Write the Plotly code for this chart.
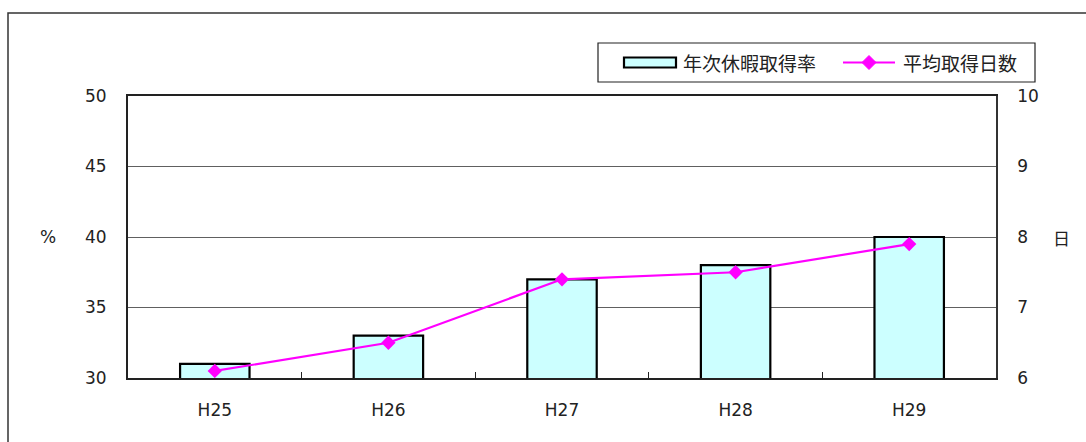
import plotly.graph_objects as go

categories = ["H25", "H26", "H27", "H28", "H29"]
rate_pct = [31, 33, 37, 38, 40]          # 年次休暇取得率 (%)
avg_days = [6.1, 6.5, 7.4, 7.5, 7.9]     # 平均取得日数 (日)
bar_name = "年次休暇取得率"
line_name = "平均取得日数"

W, H = 1086, 442
L, R, T, B = 128, 90, 96, 64
PW, PH = W - L - R, H - T - B

def px(x):
    return (x - L) / PW

def py(y):
    return (H - B - y) / PH

num_font = dict(family="DejaVu Sans, Liberation Sans, sans-serif", size=17, color="#222")
jp_font = dict(family="Noto Sans CJK JP, sans-serif", size=19, color="#222")

fig = go.Figure()
fig.add_trace(go.Bar(
    x=categories, y=rate_pct, name=bar_name, width=0.4,
    marker=dict(color="#CCFFFF", line=dict(color="black", width=2.2)),
    showlegend=False, yaxis="y"))
fig.add_trace(go.Scatter(
    x=categories, y=avg_days, name=line_name, mode="lines+markers",
    line=dict(color="#FF00FF", width=2.2),
    marker=dict(symbol="diamond", size=11, color="#FF00FF"),
    showlegend=False, yaxis="y2"))

shapes = []
# outer chart frame (extends past right/bottom edges)
shapes.append(dict(type="rect", xref="paper", yref="paper",
                   x0=px(8), x1=px(W + 20), y0=py(13), y1=py(H + 20),
                   line=dict(color="#333", width=1.5), layer="below"))
# legend box
shapes.append(dict(type="rect", xref="paper", yref="paper",
                   x0=px(598), x1=px(1035), y0=py(43), y1=py(82),
                   line=dict(color="#222", width=1.2), fillcolor="white"))
# bar swatch
shapes.append(dict(type="rect", xref="paper", yref="paper",
                   x0=px(624), x1=px(676), y0=py(57.5), y1=py(67.5),
                   line=dict(color="black", width=2.2), fillcolor="#CCFFFF"))
# line swatch
shapes.append(dict(type="line", xref="paper", yref="paper",
                   x0=px(843), x1=px(895), y0=py(62.5), y1=py(62.5),
                   line=dict(color="#FF00FF", width=2.2)))
cx, cy, d = 869, 62.5, 7
shapes.append(dict(type="path", xref="paper", yref="paper",
                   path=f"M {px(cx-d)} {py(cy)} L {px(cx)} {py(cy-d)} L {px(cx+d)} {py(cy)} L {px(cx)} {py(cy+d)} Z",
                   line=dict(color="#FF00FF", width=1), fillcolor="#FF00FF"))

annotations = [
    dict(text=bar_name, xref="paper", yref="paper", x=px(681), y=py(62.5),
         xanchor="left", yanchor="middle", showarrow=False, font=jp_font),
    dict(text=line_name, xref="paper", yref="paper", x=px(901), y=py(62.5),
         xanchor="left", yanchor="middle", showarrow=False, font=jp_font),
    dict(text="%", xref="paper", yref="paper", x=px(48), y=0.5,
         xanchor="center", yanchor="middle", showarrow=False,
         font=dict(family="DejaVu Sans, sans-serif", size=17, color="#222")),
    dict(text="日", xref="paper", yref="paper", x=px(1061), y=0.5,
         xanchor="center", yanchor="middle", showarrow=False,
         font=dict(family="Noto Sans CJK JP, sans-serif", size=17, color="#222")),
]

fig.update_layout(
    width=W, height=H,
    margin=dict(l=L, r=R, t=T, b=B, pad=0),
    paper_bgcolor="white", plot_bgcolor="white",
    showlegend=False,
    bargap=0.6,
    xaxis=dict(type="category", showline=True, linecolor="#222", linewidth=2,
               mirror=True, ticks="inside", tickson="boundaries", ticklen=6,
               tickcolor="#222", tickwidth=1.2, showgrid=False,
               tickfont=num_font, ticklabelstandoff=16),
    yaxis=dict(range=[30, 50], dtick=5, showline=True, linecolor="#222",
               linewidth=1.8, showgrid=True, gridcolor="#606060", gridwidth=1.2,
               ticks="", tickfont=num_font, ticklabelstandoff=16, zeroline=False),
    yaxis2=dict(range=[6, 10], dtick=1, overlaying="y", side="right",
                showline=True, linecolor="#333", linewidth=1.8, showgrid=False,
                ticks="", tickfont=num_font, ticklabelstandoff=16, zeroline=False),
    shapes=shapes, annotations=annotations,
)

fig.write_html("out.html", config={"displayModeBar": False},
               post_script="document.body.style.margin='0';document.body.style.overflow='hidden';")
